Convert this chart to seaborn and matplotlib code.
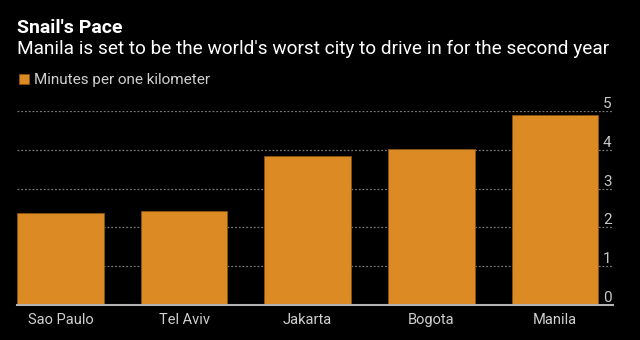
import matplotlib
matplotlib.use("Agg")
import matplotlib.pyplot as plt
import seaborn as sns
import pandas as pd

cities = ["Sao Paulo", "Tel Aviv", "Jakarta", "Bogota", "Manila"]
minutes = [2.37, 2.42, 3.85, 4.02, 4.9]
yticks = [0, 1, 2, 3, 4, 5]

sns.set_theme(style="dark")
plt.rcParams['font.family'] = ['Roboto', 'DejaVu Sans']

BG = "black"
ORANGE = "#dc8a24"

fig = plt.figure(figsize=(6.4, 3.4), dpi=100, facecolor=BG)
ax = fig.add_axes([17/640, 1-305/340, (613-17)/640, (305-111)/340])
ax.set_facecolor(BG)

df = pd.DataFrame({"city": cities, "minutes": minutes})
sns.barplot(data=df, x="city", y="minutes", color=ORANGE, saturation=1,
            width=0.7, edgecolor="#8a5410", linewidth=0.6,
            label="Minutes per one kilometer", ax=ax)

ax.set_xlim(-0.352, 4.47)
ax.set_ylim(0, 5)
ax.set_yticks(yticks)
ax.set_yticklabels([str(t) for t in yticks])
ax.yaxis.tick_right()
ax.tick_params(axis="y", length=0, pad=-1, labelsize=11, labelcolor="#c8c8c8")
for lbl in ax.get_yticklabels():
    lbl.set_horizontalalignment("right")
    lbl.set_verticalalignment("bottom")
ax.tick_params(axis="x", length=0, pad=6, labelsize=10.5, labelcolor="#d0d0d0")
ax.set_xlabel("")
ax.set_ylabel("")
ax.grid(False)
for y in yticks[1:]:
    ax.axhline(y, color="#777777", linestyle=(0, (1.5, 1.5)), linewidth=0.9, zorder=0)
for s in ["top", "left", "right"]:
    ax.spines[s].set_visible(False)
ax.spines["bottom"].set_color("#b4b4b4")
ax.spines["bottom"].set_linewidth(1.5)

fig.text(17/640, 1-28/340, "Snail's Pace", color="white", fontsize=14,
         fontweight="bold", va="center", ha="left")
fig.text(17/640, 1-49/340, "Manila is set to be the world's worst city to drive in for the second year",
         color="white", fontsize=13.7, va="center", ha="left")

leg = ax.legend(loc="center left", bbox_to_anchor=(5/640, 1-80/340),
                bbox_transform=fig.transFigure, frameon=False,
                handlelength=0.65, handleheight=0.65, handletextpad=0.35,
                fontsize=11)
for t in leg.get_texts():
    t.set_color("#d0d0d0")

fig.savefig("out.png", dpi=100, facecolor=BG)
